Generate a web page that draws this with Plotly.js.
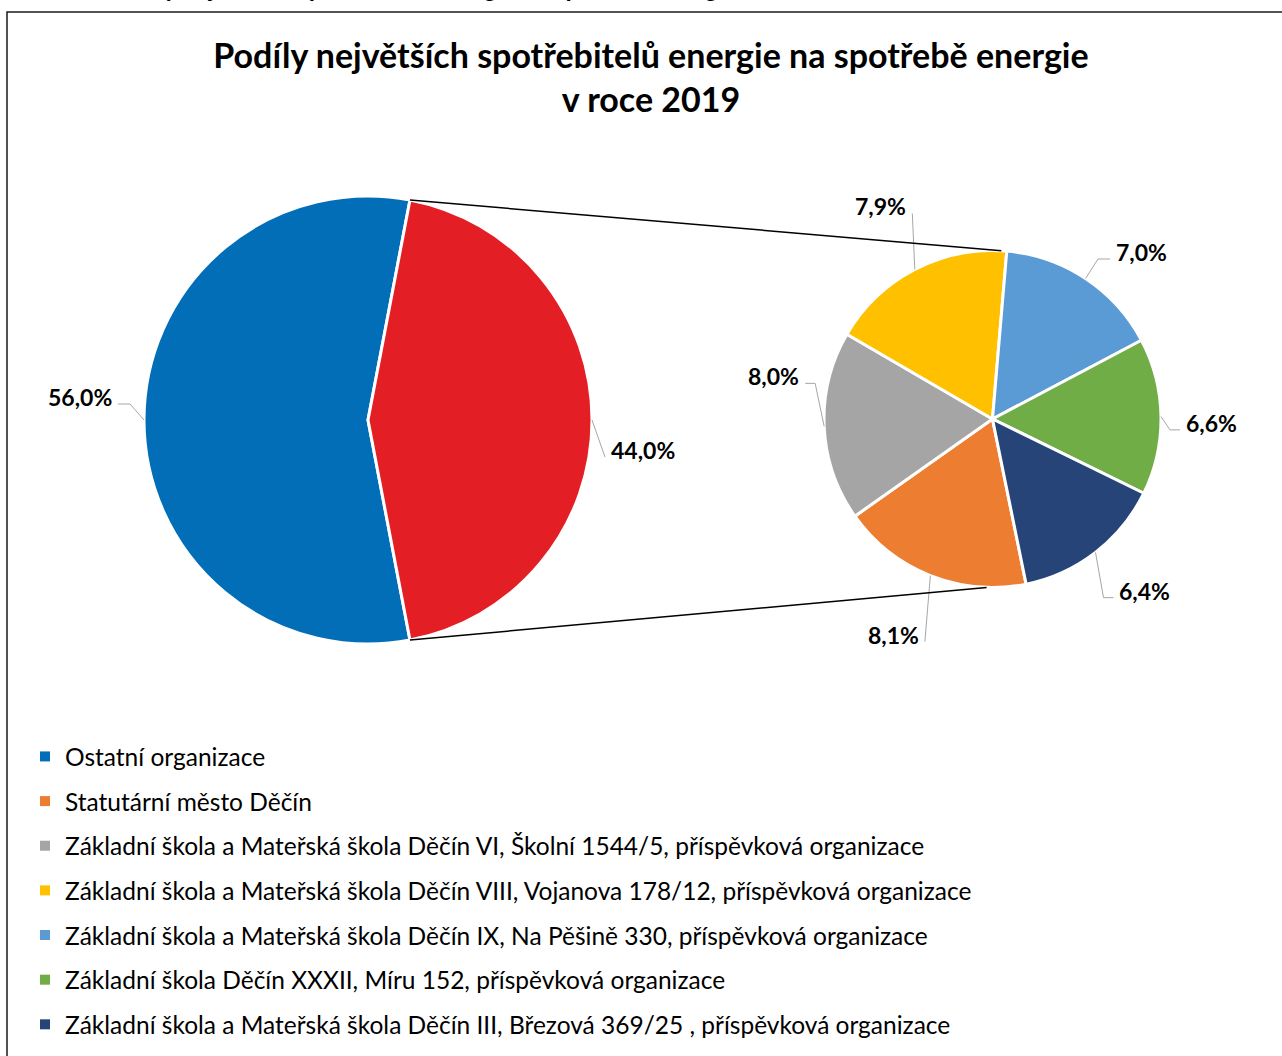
<!DOCTYPE html>
<html>
<head>
<meta charset="utf-8">
<script src="https://cdn.plot.ly/plotly-3.0.1.min.js"></script>
<style>
  html, body { margin: 0; padding: 0; background: #fff; }
  #chart { width: 1282px; height: 1056px; }
</style>
</head>
<body>
<div id="chart"></div>
<script>
const W = 1282, H = 1056;

// main pie: the rest vs. the biggest consumers (split into the second pie)
const mainLabels = ['Ostatní organizace', 'Největší spotřebitelé'];
const mainValues = [56.0, 44.0];
const mainColors = ['#036EB8', '#E31E25'];

// second pie: the biggest consumers
const subLabels = [
  'Statutární město Děčín',
  'Základní škola a Mateřská škola Děčín VI, Školní 1544/5, příspěvková organizace',
  'Základní škola a Mateřská škola Děčín VIII, Vojanova 178/12, příspěvková organizace',
  'Základní škola a Mateřská škola Děčín IX, Na Pěšině 330, příspěvková organizace',
  'Základní škola Děčín XXXII, Míru 152, příspěvková organizace',
  'Základní škola a Mateřská škola Děčín III, Březová 369/25 , příspěvková organizace'
];
const subValues = [8.1, 8.0, 7.9, 7.0, 6.6, 6.4];
const subColors = ['#ED7D31', '#A5A5A5', '#FFC000', '#5B9BD5', '#70AD47', '#264478'];

const titleText = 'Podíly největších spotřebitelů energie na spotřebě energie<br>v roce 2019';
const captionText = 'Graf č. 1: Podíly největších spotřebitelů energie na spotřebě energie v roce 2019';

// geometry (px)
const bigPie = {cx: 368, cy: 420, r: 224};
const smallPie = {cx: 992.5, cy: 419, r: 168.5, rotation: 168.5};
bigPie.rotation = 90 + mainValues[1] / (mainValues[0] + mainValues[1]) * 180;

// leader lines: [dx, dy] from slice edge to elbow, then horizontal run
const mainLeaders = [[-14, -16, -12], [13, 37, 0]];
const subLeaders = [[-5.5, 66, 0], [-9, -43, -10], [-2.5, -56, 0], [12.5, -19.5, 12], [9, 13.4, 10], [8, 45.3, 10]];

const px = x => x / W;
const py = y => 1 - y / H;
const fmt = v => v.toFixed(1).replace('.', ',') + '%';
const rad = d => d * Math.PI / 180;
const onCircle = (p, a) => [p.cx + p.r * Math.sin(rad(a)), p.cy - p.r * Math.cos(rad(a))];

function domainOf(p) {
  return {x: [px(p.cx - p.r), px(p.cx + p.r)], y: [py(p.cy + p.r), py(p.cy - p.r)]};
}

function sliceAngles(values, rotation) {
  const total = values.reduce((a, b) => a + b, 0);
  let acc = rotation;
  return values.map(v => {
    const span = v / total * 360;
    const s = {start: acc, mid: acc + span / 2, end: acc + span};
    acc += span;
    return s;
  });
}

const shapes = [];
const annotations = [];
const lineStyle = {color: '#A6A6A6', width: 1};

function addLabels(p, values, leaders) {
  sliceAngles(values, p.rotation).forEach((s, i) => {
    const e = onCircle(p, s.mid);
    const [dx, dy, run] = leaders[i];
    const elbow = [e[0] + dx, e[1] + dy];
    const end = [elbow[0] + run, elbow[1]];
    const side = run !== 0 ? Math.sign(run) : Math.sign(dx);
    shapes.push({type: 'line', xref: 'paper', yref: 'paper', x0: px(e[0]), y0: py(e[1]), x1: px(elbow[0]), y1: py(elbow[1]), line: lineStyle});
    if (run !== 0) {
      shapes.push({type: 'line', xref: 'paper', yref: 'paper', x0: px(elbow[0]), y0: py(elbow[1]), x1: px(end[0]), y1: py(end[1]), line: lineStyle});
    }
    annotations.push({
      xref: 'paper', yref: 'paper', showarrow: false,
      x: px(end[0] + side * 4), y: py(end[1] - 7),
      xanchor: side > 0 ? 'left' : 'right', yanchor: 'middle',
      text: fmt(values[i]),
      font: {family: 'Lato', size: 23, color: '#000', weight: 700}
    });
  });
}

addLabels(bigPie, mainValues, mainLeaders);
addLabels(smallPie, subValues, subLeaders);

// connector lines between the split slice and the second pie
const split = sliceAngles(mainValues, bigPie.rotation)[1];
[[split.start, 3], [split.end, 182]].forEach(([a, b]) => {
  const p0 = onCircle(bigPie, a);
  const p1 = onCircle(smallPie, b);
  shapes.push({type: 'line', xref: 'paper', yref: 'paper', x0: px(p0[0]), y0: py(p0[1]), x1: px(p1[0]), y1: py(p1[1]), line: {color: '#000', width: 1.5}});
});

// frame of the chart area
shapes.push({type: 'rect', xref: 'paper', yref: 'paper', x0: px(7), y0: py(1070), x1: px(1290), y1: py(12), line: {color: '#1a1a1a', width: 1.5}});

// caption above the frame, cut by the page top
annotations.push({
  xref: 'paper', yref: 'paper', showarrow: false, x: px(4), y: py(5), xanchor: 'left', yanchor: 'bottom',
  text: '<i>' + captionText + '</i>',
  font: {family: 'Lato', size: 26, color: '#000', weight: 700}
});

const traces = [
  {
    type: 'pie', labels: mainLabels, values: mainValues, sort: false, direction: 'clockwise',
    rotation: bigPie.rotation, domain: domainOf(bigPie), textinfo: 'none', hoverinfo: 'skip',
    marker: {colors: mainColors, line: {color: '#fff', width: 3}}, showlegend: false
  },
  {
    type: 'pie', labels: subLabels, values: subValues, sort: false, direction: 'clockwise',
    rotation: smallPie.rotation, domain: domainOf(smallPie), textinfo: 'none', hoverinfo: 'skip',
    marker: {colors: subColors, line: {color: '#fff', width: 3}}, showlegend: false
  }
];

// legend entries
const legendLabels = [mainLabels[0]].concat(subLabels);
const legendColors = [mainColors[0]].concat(subColors);
legendLabels.forEach((name, i) => {
  traces.push({
    type: 'scatter', mode: 'markers', x: [null], y: [null], name: name,
    legendgroup: 'g' + i, hoverinfo: 'skip',
    marker: {symbol: 'square', size: 10, color: legendColors[i]}
  });
});

const layout = {
  width: W, height: H,
  margin: {l: 0, r: 0, t: 0, b: 0},
  paper_bgcolor: '#fff', plot_bgcolor: '#fff',
  title: {
    text: titleText, x: px(651), xanchor: 'center', y: py(68), yanchor: 'top',
    font: {family: 'Lato', size: 34, color: '#000', weight: 700}
  },
  xaxis: {visible: false, range: [0, 1]},
  yaxis: {visible: false, range: [0, 1]},
  showlegend: true,
  legend: {
    x: px(25), xanchor: 'left', y: py(734), yanchor: 'top',
    orientation: 'v', traceorder: 'grouped', tracegroupgap: 9.8,
    font: {family: 'Lato', size: 24.5, color: '#000'},
    bgcolor: 'rgba(0,0,0,0)', itemclick: false, itemdoubleclick: false
  },
  shapes: shapes,
  annotations: annotations
};

Plotly.newPlot('chart', traces, layout, {staticPlot: true});
</script>
</body>
</html>
